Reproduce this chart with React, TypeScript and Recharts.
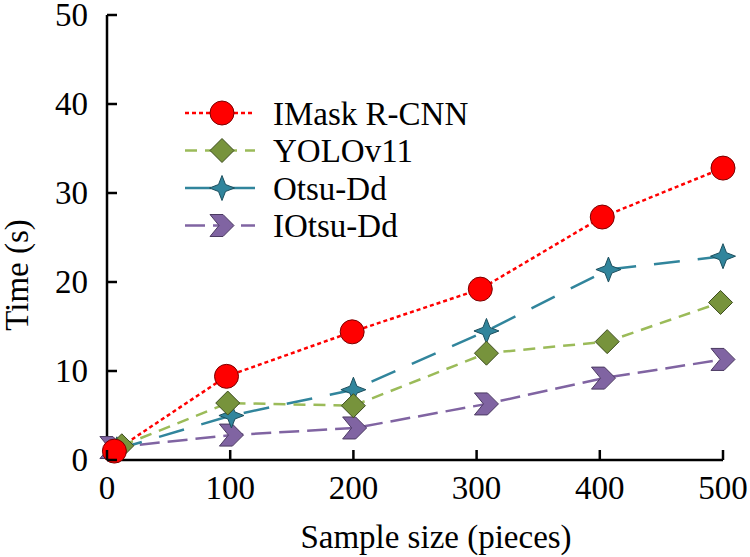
import React from 'react';
import { LineChart, Line, XAxis, YAxis, Label } from 'recharts';

const sampleTicks = [0, 100, 200, 300, 400, 500];
const timeTicks = [0, 10, 20, 30, 40, 50];

const imaskX = [6, 97, 199, 303, 402, 500];
const imaskY = [1.0, 9.4, 14.4, 19.2, 27.3, 32.8];
const yoloX = [12, 98, 200, 308, 406, 498];
const yoloY = [1.6, 6.4, 6.1, 12.0, 13.3, 17.7];
const otsuX = [8, 101, 200, 308, 407, 500];
const otsuY = [1.2, 5.0, 7.9, 14.5, 21.4, 22.9];
const iotsuX = [4, 101, 201, 308, 403, 500];
const iotsuY = [1.4, 2.8, 3.6, 6.3, 9.2, 11.3];

const FONT = '"Liberation Serif", "Times New Roman", serif';

const toPoints = (xs: number[], ys: number[]) => xs.map((x, i) => ({ x, y: ys[i] }));

const circleMark = (cx: number, cy: number) => (
  <circle cx={cx} cy={cy} r={12} fill="#FF0000" stroke="#7A0000" strokeWidth={1} />
);
const diamondMark = (cx: number, cy: number) => (
  <polygon
    points={`${cx},${cy - 12} ${cx + 12},${cy} ${cx},${cy + 12} ${cx - 12},${cy}`}
    fill="#77933C"
    stroke="#3D4D1F"
    strokeWidth={1}
  />
);
const starMark = (cx: number, cy: number) => {
  const o = 12.5;
  const i = 3.5;
  const pts = [
    [cx, cy - o], [cx + i, cy - i], [cx + o, cy], [cx + i, cy + i],
    [cx, cy + o], [cx - i, cy + i], [cx - o, cy], [cx - i, cy - i],
  ];
  return <polygon points={pts.map((p) => p.join(',')).join(' ')} fill="#31859C" stroke="#1C4F5E" strokeWidth={1} />;
};
const chevronMark = (cx: number, cy: number) => {
  const pts = [
    [cx - 12, cy - 11], [cx + 1, cy - 11], [cx + 12, cy],
    [cx + 1, cy + 11], [cx - 12, cy + 11], [cx - 3, cy],
  ];
  return <polygon points={pts.map((p) => p.join(',')).join(' ')} fill="#8064A2" stroke="#4B3A61" strokeWidth={1} />;
};

const series = [
  { name: 'IMask R-CNN', data: toPoints(imaskX, imaskY), color: '#FF0000', dash: '4 3', width: 2.5, mark: circleMark },
  { name: 'YOLOv11', data: toPoints(yoloX, yoloY), color: '#9BBB59', dash: '12 8', width: 2.5, mark: diamondMark },
  { name: 'Otsu-Dd', data: toPoints(otsuX, otsuY), color: '#31859C', dash: '26 18', width: 2.5, mark: starMark },
  { name: 'IOtsu-Dd', data: toPoints(iotsuX, iotsuY), color: '#8064A2', dash: '20 8', width: 2.5, mark: chevronMark },
];

const YTick = (props: any) => {
  const { x, y, payload } = props;
  return (
    <g>
      <line x1={x} x2={x + 10} y1={y} y2={y} stroke="#000" strokeWidth={2.5} />
      <text x={x - 19} y={y} dy={11} textAnchor="end" fontFamily={FONT} fontSize={33} fill="#000">
        {payload.value}
      </text>
    </g>
  );
};

const XTick = (props: any) => {
  const { x, y, payload } = props;
  return (
    <g>
      <line x1={x} x2={x} y1={y} y2={y - 10} stroke="#000" strokeWidth={2.5} />
      <text x={x} y={y + 39} textAnchor="middle" fontFamily={FONT} fontSize={33} fill="#000">
        {payload.value}
      </text>
    </g>
  );
};

const LegendBox = () => (
  <svg width={320} height={160} style={{ position: 'absolute', left: 170, top: 93 }}>
    {series.map((s, i) => {
      const cy = 20 + i * 37.5;
      return (
        <g key={s.name}>
          <line x1={15} x2={85} y1={cy} y2={cy} stroke={s.color} strokeWidth={s.width} strokeDasharray={s.dash} />
          {s.mark(52, cy)}
          <text x={103} y={cy + 11.5} fontFamily={FONT} fontSize={33} fill="#000">
            {s.name}
          </text>
        </g>
      );
    })}
  </svg>
);

export default function App() {
  return (
    <div style={{ position: 'absolute', left: 0, top: 0, width: 750, height: 557, background: '#fff' }}>
      <LineChart width={750} height={557} margin={{ top: 15, right: 27, left: 0, bottom: 0 }}>
        <XAxis
          type="number"
          dataKey="x"
          domain={[0, 500]}
          ticks={sampleTicks}
          height={97}
          tickSize={0}
          tickMargin={0}
          tickLine={false}
          tick={<XTick />}
          axisLine={{ stroke: '#000', strokeWidth: 2.5 }}
        >
          <Label
            content={(p: any) => {
              const vb = p.viewBox;
              return (
                <text x={vb.x + vb.width / 2 + 21} y={vb.y + 88} textAnchor="middle" fontFamily={FONT} fontSize={33} fill="#000">
                  Sample size (pieces)
                </text>
              );
            }}
          />
        </XAxis>
        <YAxis
          type="number"
          dataKey="y"
          domain={[0, 50]}
          ticks={timeTicks}
          width={107}
          tickSize={0}
          tickMargin={0}
          tickLine={false}
          tick={<YTick />}
          axisLine={{ stroke: '#000', strokeWidth: 2.5 }}
        >
          <Label
            content={() => (
              <text transform="translate(28, 275) rotate(-90)" textAnchor="middle" fontFamily={FONT} fontSize={33} fill="#000">
                Time (s)
              </text>
            )}
          />
        </YAxis>
        {[...series].reverse().map((s) => (
          <Line
            key={s.name}
            data={s.data}
            dataKey="y"
            name={s.name}
            stroke={s.color}
            strokeWidth={s.width}
            strokeDasharray={s.dash}
            type="linear"
            isAnimationActive={false}
            activeDot={false}
            dot={(p: any) => <g key={`${s.name}-${p.index}`}>{s.mark(p.cx, p.cy)}</g>}
          />
        ))}
      </LineChart>
      <LegendBox />
    </div>
  );
}
